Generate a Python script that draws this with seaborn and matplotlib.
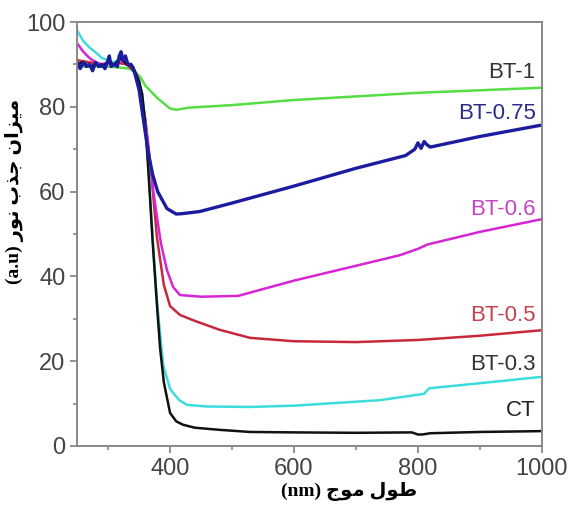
import matplotlib
matplotlib.use("Agg")
import matplotlib.pyplot as plt
import numpy as np
import pandas as pd
import seaborn as sns
from matplotlib.ticker import MultipleLocator

# --- data (wavelength nm, absorbance a.u.) ---
ct_x = [250, 260, 270, 280, 290, 300, 310, 320, 330, 340, 350, 355, 360, 365, 372, 379,
        384, 390, 400, 410, 421, 440, 480, 529, 600, 700, 790, 800, 807, 820, 900, 1000]
ct_y = [90, 90.5, 89.5, 90, 89.5, 90.5, 90, 91.5, 90, 89.5, 86, 83, 76, 65, 48, 33,
        23, 15, 7.8, 5.8, 5, 4.3, 3.8, 3.3, 3.2, 3.1, 3.2, 2.7, 2.7, 3.0, 3.3, 3.5]

bt03_x = [250, 260, 270, 281, 290, 300, 310, 320, 330, 340, 350, 355, 360, 365, 372, 379,
          389, 400, 405, 415, 427, 460, 529, 600, 739, 810, 818, 900, 1000]
bt03_y = [98, 95.5, 94, 92.7, 91.5, 91, 90.5, 91.5, 90.5, 89.5, 86, 83, 76, 66, 49, 34,
          19, 13.5, 12.5, 10.8, 9.7, 9.3, 9.2, 9.5, 10.8, 12.3, 13.6, 14.8, 16.3]

bt05_x = [250, 270, 290, 310, 330, 345, 350, 360, 368, 379, 390, 400, 416, 440, 480,
          529, 600, 700, 800, 900, 1000]
bt05_y = [91, 90.5, 90, 90.5, 90, 88, 86, 77, 67, 49, 38, 33, 30.9, 29.5, 27.4,
          25.5, 24.7, 24.5, 25, 26, 27.3]

bt06_x = [250, 260, 270, 280, 290, 300, 310, 320, 330, 340, 350, 360, 373, 385, 395, 405,
          416, 450, 510, 550, 600, 700, 771, 800, 815, 900, 1000]
bt06_y = [95, 93, 91.5, 90.5, 90, 90.5, 90, 91, 90, 89.5, 86, 77, 60, 48, 41.5, 37.5,
          35.6, 35.2, 35.4, 37, 39, 42.5, 45, 46.5, 47.5, 50.5, 53.5]

bt075_x = [250, 255, 260, 265, 270, 275, 280, 285, 290, 295, 300, 302, 305, 310, 315, 318,
           321, 324, 328, 332, 337, 343, 350, 358, 365, 372, 380, 395, 410, 420, 448, 500,
           600, 700, 780, 795, 800, 805, 810, 815, 820, 900, 1000]
bt075_y = [90.5, 89, 90.5, 89.5, 90, 88.5, 90.5, 89.5, 90, 89, 91, 92, 89.5, 90, 89.5, 92,
           93, 91, 92, 90, 90, 88, 84, 76, 69, 64, 60, 56, 54.7, 54.8, 55.3, 57.3,
           61.3, 65.5, 68.5, 70, 71.5, 70.2, 71.8, 71, 70.5, 73, 75.7]

bt1_x = [250, 300, 335, 345, 352, 360, 380, 400, 410, 430, 500, 600, 800, 1000]
bt1_y = [89.5, 89.5, 89, 88, 87, 85, 82, 79.6, 79.3, 79.8, 80.4, 81.6, 83.3, 84.5]

names = ["CT", "BT-0.3", "BT-0.5", "BT-0.6", "BT-0.75", "BT-1"]
xs = [ct_x, bt03_x, bt05_x, bt06_x, bt075_x, bt1_x]
ys = [ct_y, bt03_y, bt05_y, bt06_y, bt075_y, bt1_y]
line_colors = ["#111111", "#3ddcdc", "#c8283c", "#d525d5", "#1c1ca0", "#55dd44"]
label_colors = ["#222222", "#333333", "#c2424e", "#c444c4", "#2a2a88", "#333333"]
label_y = [8.3, 19.1, 30.7, 55.7, 78.5, 88.2]
draw_order = ["BT-1", "BT-0.5", "BT-0.6", "BT-0.3", "CT", "BT-0.75"]

# Persian labels, pre-shaped (presentation forms, visual order)
xlabel = "(nm) \uFE9D\uFEEE\uFEE3 \uFEDD\uFEEE\uFEC3"
ylabel = "(a.u) \uFEAD\uFEEE\uFEE7 \uFE8F\uFEAC\uFE9F \uFEE5\uFE8D\uFEB0\uFEF4\uFEE3"

sns.set_style("ticks")
plt.rcParams["font.family"] = ["Liberation Sans", "DejaVu Sans"]

fig = plt.figure(figsize=(5.71, 5.12), dpi=100)
ax = fig.add_axes([0.135, 0.129, 0.814, 0.828])

for name in draw_order:
    i = names.index(name)
    lw = 2.4 if name == "BT-0.75" else 1.8
    sns.lineplot(x=xs[i], y=ys[i], color=line_colors[i], lw=lw, ax=ax,
                 sort=False, estimator=None)

for i, name in enumerate(names):
    ax.text(990, label_y[i], name, color=label_colors[i], fontsize=16,
            ha="right", va="center")

ax.set_xlim(250, 1000)
ax.set_ylim(0, 100)
ax.xaxis.set_major_locator(MultipleLocator(200))
ax.xaxis.set_minor_locator(MultipleLocator(100))
ax.yaxis.set_major_locator(MultipleLocator(20))
ax.yaxis.set_minor_locator(MultipleLocator(10))
ax.set_xticks([400, 600, 800, 1000])

for side in ["left", "right", "top", "bottom"]:
    ax.spines[side].set_visible(True)
    ax.spines[side].set_color("#888888")
    ax.spines[side].set_linewidth(1.4)
ax.tick_params(which="major", direction="out", length=5, width=1.3, color="#888888",
               labelsize=17, labelcolor="#444444")
ax.tick_params(which="minor", direction="out", length=3, width=1.2, color="#888888")

ax.set_xlabel(xlabel, fontsize=14, fontweight="bold", color="black",
              family=["Liberation Serif", "DejaVu Sans"])
ax.set_ylabel(ylabel, fontsize=14, fontweight="bold", color="black",
              family=["Liberation Serif", "DejaVu Sans"])
ax.xaxis.set_label_coords(0.585, -0.085)
ax.yaxis.set_label_coords(-0.115, 0.6)

fig.savefig("out.png", dpi=100)
